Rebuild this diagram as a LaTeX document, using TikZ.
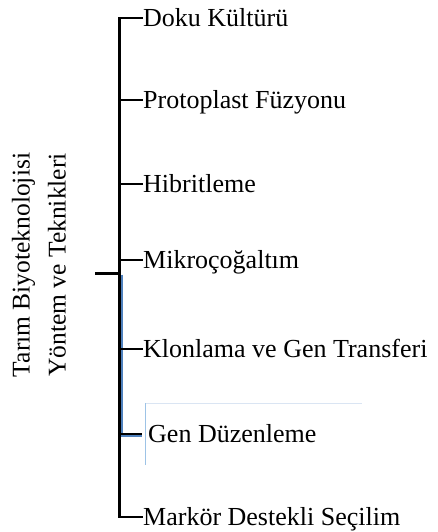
\documentclass[tikz,border=0pt]{standalone}
\usepackage{fontspec}
\setmainfont{Liberation Serif}
\definecolor{wordblue}{RGB}{79,129,189}
\definecolor{paleblue}{RGB}{157,195,230}
\definecolor{faintblue}{RGB}{218,229,243}
\begin{document}
\begin{tikzpicture}[x=1bp,y=-1bp,
  item/.style={anchor=base west, inner sep=0pt, font=\fontsize{26bp}{30bp}\selectfont},
  rootlabel/.style={rotate=90, align=center, inner sep=0pt, font=\fontsize{25.5bp}{36bp}\selectfont},
  trunk/.style={line width=3bp, black},
  twig/.style={line width=2bp, black},
  hilite/.style={line width=2bp, wordblue},
  frameline/.style={line width=1bp}]
\useasboundingbox (0,0) rectangle (438,532);
% root
\node[rootlabel] (r) at (39,265) {Tarım Biyoteknolojisi\\Yöntem ve Teknikleri};
% junctions on the trunk
\coordinate (jr) at (119,273);
\coordinate (rb) at (95,273);
\coordinate (j1) at (119,18);
\coordinate (j2) at (119,100);
\coordinate (j3) at (119,184);
\coordinate (j4) at (119,260);
\coordinate (j5) at (119,349);
\coordinate (j6) at (119,434);
\coordinate (j7) at (119,517);
% items
\node[item] (n1) at (143,26.5) {Doku Kültürü};
\node[item] (n2) at (143,108.5) {Protoplast Füzyonu};
\node[item] (n3) at (143,192.5) {Hibritleme};
\node[item] (n4) at (143,268.5) {Mikroçoğaltım};
\node[item] (n5) at (143,357.5) {Klonlama ve Gen Transferi};
\node[item] (n6) at (148,442.5) {Gen Düzenleme};
\node[item] (n7) at (143,525.5) {Markör Destekli Seçilim};
% trunk and root bar
\draw[trunk] (rb) -- (jr);
\draw[trunk, line cap=rect] ([yshift=-0.5bp]j1) -- ([yshift=0.5bp]j7);
% highlight of the selected branch
\draw[hilite] (121.5,274.5) -- (121.5,436) -- ([xshift=-6bp]n6.west |- 0,436);
% frame fragments of the selected item
\draw[frameline, faintblue] (145,403) -- (362,403);
\draw[frameline, paleblue] (145,403) -- (145,465);
% branches
\draw[twig] (j1) -- (j1 -| n1.west);
\draw[twig] (j2) -- (j2 -| n2.west);
\draw[twig] (j3) -- (j3 -| n3.west);
\draw[twig] (j4) -- (j4 -| n4.west);
\draw[twig] (j5) -- (j5 -| n5.west);
\draw[twig] (j6) -- ([xshift=-6bp]j6 -| n6.west);
\draw[twig] (j7) -- (j7 -| n7.west);
\end{tikzpicture}
\end{document}
